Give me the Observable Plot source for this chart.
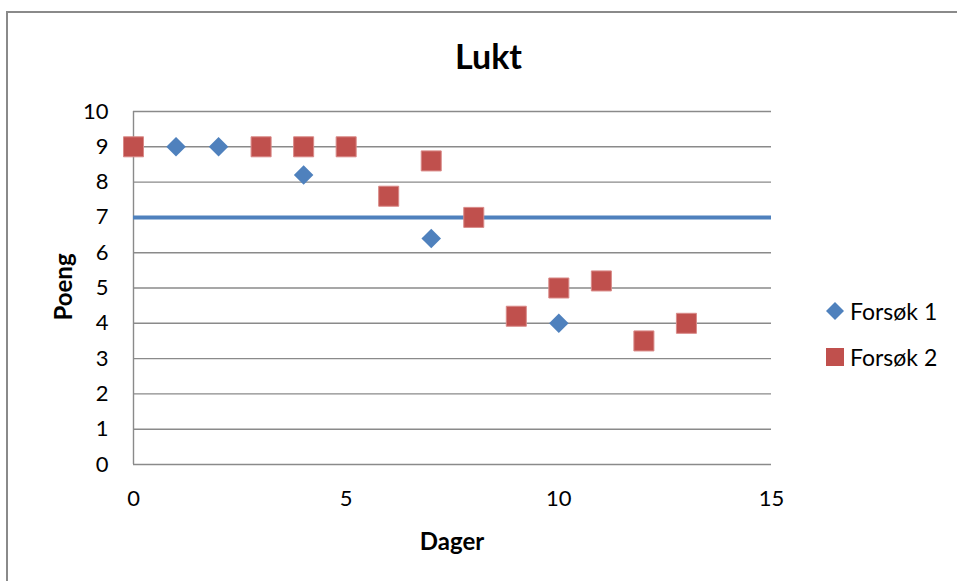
<!DOCTYPE html>
<html>
<head>
<meta charset="utf-8">
<script src="https://cdn.jsdelivr.net/npm/d3@7"></script>
<script src="https://cdn.jsdelivr.net/npm/@observablehq/plot@0.6"></script>
<style>
  html, body { margin: 0; padding: 0; background: #fff; }
  #wrap { position: relative; width: 957px; height: 581px; overflow: hidden; font-family: Lato, "Open Sans", sans-serif; color: #000; }
  #frame { position: absolute; left: 6px; top: 11px; width: 1000px; height: 700px; border-left: 2px solid #8a8a8a; border-top: 2px solid #8a8a8a; box-sizing: border-box; }
  #chart { position: absolute; left: 0; top: 0; }
  .title { position: absolute; left: 0; width: 977px; top: 35px; text-align: center; font-weight: bold; font-size: 34px; }
  .xlab { position: absolute; left: 352px; width: 200px; text-align: center; top: 526px; font-weight: bold; font-size: 24px; }
  .ylab { position: absolute; left: 62px; top: 287px; transform: translate(-50%, -50%) rotate(-90deg); font-weight: bold; font-size: 24px; white-space: nowrap; }
  .legend { position: absolute; left: 826px; font-size: 23px; display: flex; align-items: center; white-space: nowrap; }
  .sym { display: inline-block; margin-right: 6px; }
</style>
</head>
<body>
<div id="wrap">
  <div id="frame"></div>
  <div id="chart"></div>
  <div class="title">Lukt</div>
  <div class="xlab">Dager</div>
  <div class="ylab">Poeng</div>
  <div class="legend" style="top:297px"><svg class="sym" width="18" height="18"><path d="M9,0L18,9L9,18L0,9Z" fill="#4F81BD"/></svg><span id="l1"></span></div>
  <div class="legend" style="top:343px"><svg class="sym" width="18" height="18"><rect x="0" y="0" width="18" height="18" fill="#C0504D"/></svg><span id="l2"></span></div>
</div>
<script>
// Series names
const seriesNames = ["Forsøk 1", "Forsøk 2"];
// Forsøk 1 (diamonds)
const dager1 = [0, 1, 2, 4, 7, 10];
const poeng1 = [9, 9, 9, 8.2, 6.4, 4];
// Forsøk 2 (squares)
const dager2 = [0, 3, 4, 5, 6, 7, 8, 9, 10, 11, 12, 13];
const poeng2 = [9, 9, 9, 9, 7.6, 8.6, 7, 4.2, 5, 5.2, 3.5, 4];
// Reference line
const grense = 7;
// Axes
const xTicks = [0, 5, 10, 15];
const yTicks = [0, 1, 2, 3, 4, 5, 6, 7, 8, 9, 10];

const blue = "#4F81BD", red = "#C0504D", grid = "#8a8a8a";

const s1 = dager1.map((d, i) => ({dag: d, poeng: poeng1[i]}));
const s2 = dager2.map((d, i) => ({dag: d, poeng: poeng2[i]}));

document.getElementById("l1").textContent = seriesNames[0];
document.getElementById("l2").textContent = seriesNames[1];

const chart = Plot.plot({
  width: 957,
  height: 581,
  marginLeft: 133,
  marginRight: 186,
  marginTop: 111,
  marginBottom: 117,
  style: {fontFamily: "Lato, 'Open Sans', sans-serif", fontSize: "22px", color: "#000", background: "transparent"},
  x: {domain: [0, 15]},
  y: {domain: [0, 10]},
  marks: [
    Plot.ruleY(yTicks, {stroke: grid, strokeWidth: 1.4, strokeOpacity: 1}),
    Plot.ruleX([0], {stroke: grid, strokeWidth: 1.4}),
    Plot.axisX({ticks: xTicks, tickSize: 0, tickPadding: 26, label: null, fontSize: 22}),
    Plot.axisY({ticks: yTicks, tickSize: 0, tickPadding: 25, label: null, fontSize: 22}),
    Plot.ruleY([grense], {x1: 0, x2: 15, stroke: blue, strokeWidth: 4}),
    Plot.dot(s1, {x: "dag", y: "poeng", symbol: "diamond2", r: 8.8, fill: blue, stroke: "none"}),
    Plot.dot(s2, {x: "dag", y: "poeng", symbol: "square", r: 11.3, fill: red, stroke: "#d98a88", strokeWidth: 1})
  ]
});
document.getElementById("chart").appendChild(chart);
</script>
</body>
</html>
